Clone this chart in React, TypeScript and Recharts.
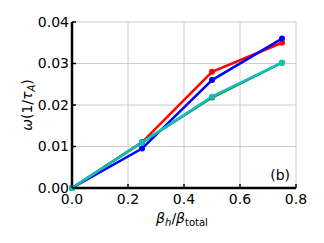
import { LineChart, Line, XAxis, YAxis, CartesianGrid, ReferenceDot } from "recharts";

const betaRatio = [0, 0.25, 0.5, 0.75];
const redSeries = [0, 0.011, 0.028, 0.035];
const blueSeries = [0, 0.0095, 0.026, 0.036];
const greenSeries = [0, 0.011, 0.0218, 0.0302];
const cyanSeries = [0, 0.011, 0.022, 0.0302];
const xTicks = [0, 0.2, 0.4, 0.6, 0.8];
const yTicks = [0, 0.01, 0.02, 0.03, 0.04];

const data = betaRatio.map((b, i) => ({
  b,
  red: redSeries[i],
  blue: blueSeries[i],
  green: greenSeries[i],
  cyan: cyanSeries[i],
}));

const FONT = "DejaVu Sans, sans-serif";
const TICK_LEN = 4;

const BottomTick = ({ x, y, payload }: any) => (
  <g>
    <line x1={x} x2={x} y1={y} y2={y - TICK_LEN} stroke="#000" strokeWidth={1.5} />
    <text x={x} y={y + 16} textAnchor="middle" fontSize={14} fontFamily={FONT} fill="#000">
      {payload.value.toFixed(1)}
    </text>
  </g>
);

const LeftTick = ({ x, y, payload }: any) => (
  <g>
    <line x1={x} x2={x + TICK_LEN} y1={y} y2={y} stroke="#000" strokeWidth={1.5} />
    <text x={x - 3} y={y + 4.5} textAnchor="end" fontSize={14} fontFamily={FONT} fill="#000">
      {payload.value.toFixed(2)}
    </text>
  </g>
);

const TopTick = ({ x, y }: any) => (
  <line x1={x} x2={x} y1={y} y2={y + TICK_LEN} stroke="#000" strokeWidth={1.5} />
);

const RightTick = ({ x, y }: any) => (
  <line x1={x} x2={x - TICK_LEN} y1={y} y2={y} stroke="#000" strokeWidth={1.5} />
);

const XLabel = ({ viewBox }: any) => {
  const cx = viewBox.x + viewBox.width / 2;
  return (
    <text x={cx - 2} y={viewBox.y + 35} textAnchor="middle" fontSize={14} fontFamily={FONT} fill="#000">
      <tspan fontStyle="italic">β</tspan>
      <tspan fontStyle="italic" fontSize={10} dy={3}>h</tspan>
      <tspan dy={-3}>/</tspan>
      <tspan fontStyle="italic">β</tspan>
      <tspan fontSize={10} dy={3}>total</tspan>
    </text>
  );
};

const YLabel = ({ viewBox }: any) => {
  const cy = viewBox.y + viewBox.height / 2;
  const x = 32;
  return (
    <text
      x={x}
      y={cy}
      transform={`rotate(-90, ${x}, ${cy})`}
      textAnchor="middle"
      fontSize={14}
      fontFamily={FONT}
      fill="#000"
    >
      <tspan fontStyle="italic">ω</tspan>
      <tspan>(1/</tspan>
      <tspan fontStyle="italic">τ</tspan>
      <tspan fontStyle="italic" fontSize={10} dy={3}>A</tspan>
      <tspan dy={-3}>)</tspan>
    </text>
  );
};

const PanelTag = ({ viewBox }: any) => (
  <text x={viewBox.x - 6} y={viewBox.y - 8} textAnchor="end" fontSize={14} fontFamily={FONT} fill="#000">
    (b)
  </text>
);

const axisLine = { stroke: "#000", strokeWidth: 2.5 };

export default function App() {
  return (
    <div style={{ margin: -8, width: 324, height: 243, background: "#fff" }}>
      <LineChart width={324} height={243} data={data} margin={{ top: 22, right: 28, left: 0, bottom: 0 }}>
        <CartesianGrid stroke="#cccccc" strokeWidth={1} />
        <XAxis
          dataKey="b"
          type="number"
          domain={[0, 0.8]}
          ticks={xTicks}
          height={55}
          tickSize={0}
          tickMargin={0}
          axisLine={axisLine}
          tickLine={false}
          tick={<BottomTick />}
          label={<XLabel />}
        />
        <XAxis
          xAxisId="top"
          orientation="top"
          dataKey="b"
          type="number"
          domain={[0, 0.8]}
          ticks={xTicks}
          height={0}
          tickSize={0}
          tickMargin={0}
          axisLine={axisLine}
          tickLine={false}
          tick={<TopTick />}
        />
        <YAxis
          type="number"
          domain={[0, 0.04]}
          ticks={yTicks}
          width={72}
          tickSize={0}
          tickMargin={0}
          axisLine={axisLine}
          tickLine={false}
          tick={<LeftTick />}
          label={<YLabel />}
        />
        <YAxis
          yAxisId="right"
          orientation="right"
          type="number"
          domain={[0, 0.04]}
          ticks={yTicks}
          width={0}
          tickSize={0}
          tickMargin={0}
          axisLine={axisLine}
          tickLine={false}
          tick={<RightTick />}
        />
        <Line dataKey="red" stroke="#ff0000" strokeWidth={2.5} dot={{ r: 3, fill: "#ff0000", stroke: "#ff0000", strokeWidth: 0 }} isAnimationActive={false} />
        <Line dataKey="blue" stroke="#0000ff" strokeWidth={2.5} dot={{ r: 3, fill: "#0000ff", stroke: "#0000ff", strokeWidth: 0 }} isAnimationActive={false} />
        <Line dataKey="green" stroke="#008000" strokeWidth={2.5} dot={{ r: 3, fill: "#008000", stroke: "#008000", strokeWidth: 0 }} isAnimationActive={false} />
        <Line dataKey="cyan" stroke="#12bfbd" strokeWidth={2.5} dot={{ r: 3, fill: "#12bfbd", stroke: "#12bfbd", strokeWidth: 0 }} isAnimationActive={false} />
        <ReferenceDot x={0.8} y={0} r={0} fill="none" stroke="none" label={<PanelTag />} />
      </LineChart>
    </div>
  );
}
